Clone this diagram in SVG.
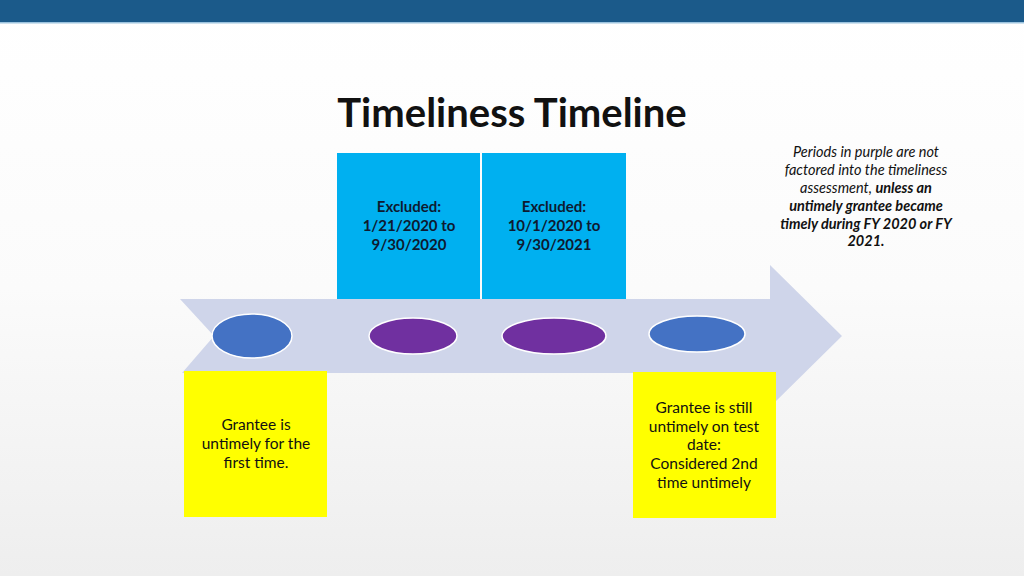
<svg xmlns="http://www.w3.org/2000/svg" width="1024" height="576" viewBox="0 0 1024 576">
<defs>
<linearGradient id="bg" x1="0" y1="0" x2="0" y2="1">
<stop offset="0" stop-color="#ffffff"/>
<stop offset="0.5" stop-color="#fbfbfb"/>
<stop offset="1" stop-color="#eeeeee"/>
</linearGradient>
<style>
.t{font-family:Lato,"Open Sans","Liberation Sans",sans-serif;text-anchor:middle;fill:#111}
.bx{font-size:15px;font-weight:bold;fill:#0e1a30}
.yl{font-size:15.5px}
.nt{font-size:14.5px;font-style:italic}
.blue{fill:#00B0F0}
.yel{fill:#FFFF00}
.ell{stroke:#ffffff;stroke-width:1.5}
</style>
</defs>
<rect width="1024" height="576" fill="url(#bg)"/>
<rect x="0" y="0" width="1024" height="22" fill="#1B5A8A"/>
<rect x="0" y="22" width="1024" height="1.5" fill="#9cc3de"/>
<text class="t" x="512" y="127" font-size="40" font-weight="bold">Timeliness Timeline</text>

<g id="connectors">
<path d="M180,299 L770,299 L770,265 L842,336 L770,407 L770,373 L182,373 L214,336 Z" fill="#CFD5EA"/>
</g>

<g id="excl1">
<rect class="blue" x="337" y="153" width="143" height="146"/>
<text class="t bx" x="409" y="212">Excluded:</text>
<text class="t bx" x="409" y="231">1/21/2020 to</text>
<text class="t bx" x="409" y="250">9/30/2020</text>
</g>
<g id="excl2">
<rect class="blue" x="482" y="153" width="144" height="146"/>
<text class="t bx" x="554" y="212">Excluded:</text>
<text class="t bx" x="554" y="231">10/1/2020 to</text>
<text class="t bx" x="554" y="250">9/30/2021</text>
</g>

<g id="dot1"><ellipse class="ell" cx="252" cy="336" rx="40" ry="22" fill="#4472C4"/></g>
<g id="dot2"><ellipse class="ell" cx="413" cy="336" rx="44" ry="18" fill="#7030A0"/></g>
<g id="dot3"><ellipse class="ell" cx="554" cy="336" rx="52" ry="18" fill="#7030A0"/></g>
<g id="dot4"><ellipse class="ell" cx="697" cy="334" rx="48" ry="18" fill="#4472C4"/></g>

<g id="first">
<rect class="yel" x="184" y="371" width="143" height="146"/>
<text class="t yl" x="256" y="430">Grantee is</text>
<text class="t yl" x="256" y="449">untimely for the</text>
<text class="t yl" x="256" y="468">first time.</text>
</g>
<g id="second">
<rect class="yel" x="633" y="372" width="143" height="146"/>
<text class="t yl" x="704" y="413">Grantee is still</text>
<text class="t yl" x="704" y="432">untimely on test</text>
<text class="t yl" x="704" y="450">date:</text>
<text class="t yl" x="704" y="469">Considered 2nd</text>
<text class="t yl" x="704" y="488">time untimely</text>
</g>

<g id="note">
<text class="t nt" x="866" y="157">Periods in purple are not</text>
<text class="t nt" x="866" y="175">factored into the timeliness</text>
<text class="t nt" x="866" y="193">assessment, <tspan font-weight="bold">unless an</tspan></text>
<text class="t nt" x="866" y="211" font-weight="bold">untimely grantee became</text>
<text class="t nt" x="866" y="229" font-weight="bold">timely during FY 2020 or FY</text>
<text class="t nt" x="866" y="246" font-weight="bold">2021.</text>
</g>
</svg>
